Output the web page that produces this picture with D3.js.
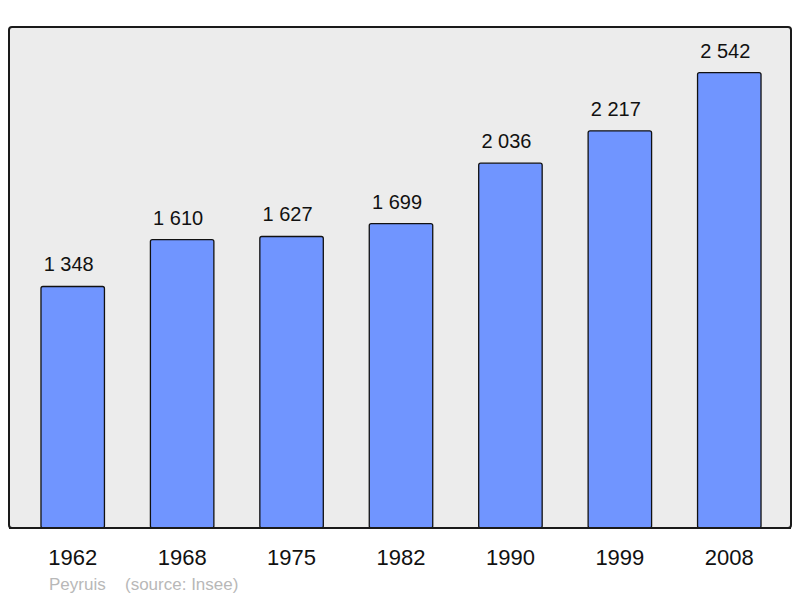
<!DOCTYPE html>
<html><head><meta charset="utf-8">
<script src="https://cdn.jsdelivr.net/npm/d3@7"></script>
<style>html,body{margin:0;padding:0;background:#fff}svg{display:block}</style>
</head><body>
<svg id="c" width="800" height="598"></svg>
<script>
const years = ["1962","1968","1975","1982","1990","1999","2008"];
const population = [1348,1610,1627,1699,2036,2217,2542];
const townName = "Peyruis";
const sourceText = "(source: Insee)";

const svg = d3.select("#c");
const panel = {x0: 9, y0: 27, x1: 791, y1: 528};
const font = "Liberation Sans, Arial, sans-serif";

svg.append("rect")
  .attr("x", panel.x0).attr("y", panel.y0)
  .attr("width", panel.x1 - panel.x0).attr("height", panel.y1 - panel.y0)
  .attr("rx", 3).attr("fill", "#ececec").attr("stroke", "#1a1a1a").attr("stroke-width", 2);

const x = d3.scaleBand().domain(years).range([18, 784]).paddingInner(0.42).paddingOuter(0.21);
const y = d3.scaleLinear().domain([0, d3.max(population) * 1.1]).range([panel.y1, panel.y0]);

const data = years.map((yr, i) => ({yr, v: population[i]}));

svg.append("g").selectAll("rect").data(data).join("rect")
  .attr("x", d => x(d.yr)).attr("y", d => y(d.v))
  .attr("width", x.bandwidth()).attr("height", d => y(0) - y(d.v))
  .attr("rx", 2)
  .attr("fill", "#7095ff").attr("stroke", "#111").attr("stroke-width", 1.3);

const fmt = v => d3.format(",")(v).replace(/,/g, " ");

svg.append("g").selectAll("text").data(data).join("text")
  .attr("x", d => x(d.yr) + x.bandwidth() / 2 - 4)
  .attr("y", d => y(d.v) - 15)
  .attr("text-anchor", "middle")
  .attr("font-family", font)
  .attr("font-size", 20).attr("fill", "#111")
  .text(d => fmt(d.v));

svg.append("line").attr("x1", panel.x0).attr("x2", panel.x1)
  .attr("y1", panel.y1).attr("y2", panel.y1).attr("stroke", "#1a1a1a").attr("stroke-width", 2);

const xAxis = svg.append("g").attr("transform", `translate(0,${panel.y1})`)
  .call(d3.axisBottom(x).tickSize(0).tickPadding(0));
xAxis.select(".domain").remove();
xAxis.selectAll("text")
  .attr("y", 37).attr("dy", 0)
  .attr("font-family", font)
  .attr("font-size", 22).attr("fill", "#111");

svg.append("text").attr("x", 49).attr("y", 590)
  .attr("font-family", font).attr("font-size", 17).attr("fill", "#b8b8b8")
  .text(townName);
svg.append("text").attr("x", 125).attr("y", 590)
  .attr("font-family", font).attr("font-size", 17).attr("fill", "#b8b8b8")
  .text(sourceText);
</script>
</body></html>
